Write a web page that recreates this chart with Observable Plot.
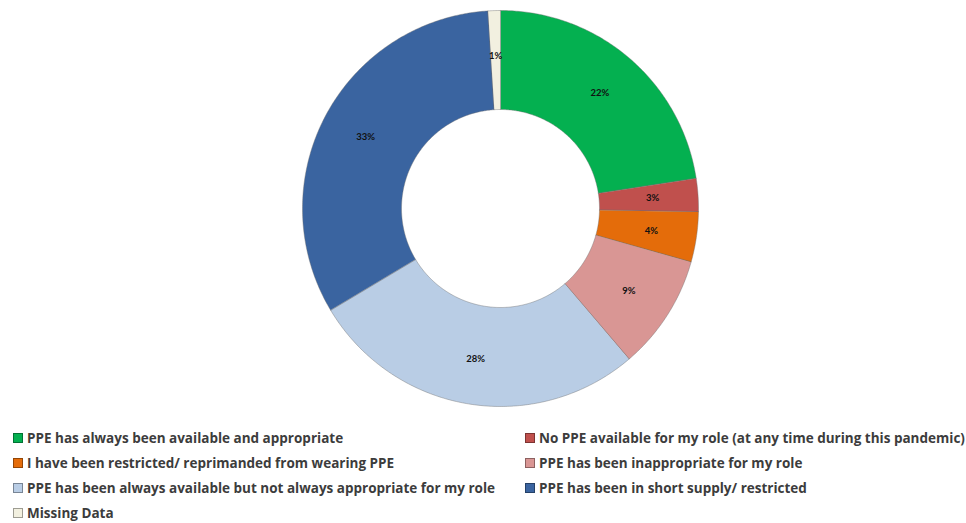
<!DOCTYPE html>
<html>
<head>
<meta charset="utf-8">
<script src="https://cdn.jsdelivr.net/npm/d3@7"></script>
<script src="https://cdn.jsdelivr.net/npm/@observablehq/plot@0.6"></script>
<style>
  html, body { margin: 0; padding: 0; background: #fff; }
  #chart svg { display: block; }
  #legend {
    display: grid;
    grid-template-columns: 512px 440px;
    grid-auto-rows: 25px;
    margin-top: 9px;
    padding-left: 13px;
    font-family: "Open Sans", Lato, sans-serif;
    font-weight: 700;
    font-size: 13.5px;
    color: #3c3c3c;
  }
  .item { display: flex; align-items: center; white-space: nowrap; }
  .sw { width: 8px; height: 8px; border: 1px solid rgba(0,0,0,0.35); margin-right: 4px; flex: none; }
</style>
</head>
<body>
<div id="chart"></div>
<div id="legend"></div>
<script>
const categories = [
  "PPE has always been available and appropriate",
  "No PPE available for my role (at any time during this pandemic)",
  "I have been restricted/ reprimanded from wearing PPE",
  "PPE has been inappropriate for my role",
  "PPE has been always available but not always appropriate for my role",
  "PPE has been in short supply/ restricted",
  "Missing Data"
];
const values = [22.6, 2.7, 4.1, 9.4, 27.7, 32.6, 1.0];
const labels = ["22%", "3%", "4%", "9%", "28%", "33%", "1%"];
const colors = ["#04b050", "#c0504d", "#e46c0a", "#d99694", "#b9cde5", "#3a64a0", "#f2f0e0"];

const innerR = 0.5, outerR = 1, labelR = 0.77;
const pie = d3.pie().sort(null).value(d => d.value);
const rows = categories.map((c, i) => ({category: c, value: values[i], label: labels[i]}));
const arcs = pie(rows);

function ring(a0, a1) {
  const n = Math.max(8, Math.ceil((a1 - a0) / 0.01));
  const pts = [];
  for (let k = 0; k <= n; k++) {
    const a = a0 + (a1 - a0) * k / n;
    pts.push([outerR * Math.sin(a), outerR * Math.cos(a)]);
  }
  for (let k = n; k >= 0; k--) {
    const a = a0 + (a1 - a0) * k / n;
    pts.push([innerR * Math.sin(a), innerR * Math.cos(a)]);
  }
  pts.push(pts[0]);
  return pts;
}

const features = arcs.map(a => ({
  type: "Feature",
  properties: {category: a.data.category},
  geometry: {type: "Polygon", coordinates: [ring(a.startAngle, a.endAngle)]}
}));
const labelPts = arcs.map(a => {
  const m = (a.startAngle + a.endAngle) / 2;
  return {x: labelR * Math.sin(m), y: labelR * Math.cos(m), text: a.data.label};
});

const plot = Plot.plot({
  width: 966,
  height: 416,
  marginTop: 10,
  marginBottom: 10,
  marginLeft: 34,
  marginRight: 0,
  projection: {
    type: "reflect-y",
    domain: {type: "MultiPoint", coordinates: [[-1, -1], [1, 1]]}
  },
  color: {domain: categories, range: colors},
  marks: [
    Plot.geo(features, {
      fill: d => d.properties.category,
      stroke: "#6f6f6f",
      strokeWidth: 0.6,
      strokeOpacity: 0.7
    }),
    Plot.text(labelPts, {
      x: "x", y: "y", text: "text",
      fill: "#111",
      fontSize: 9.5,
      fontWeight: 700,
      fontFamily: "Lato, sans-serif"
    })
  ]
});
document.getElementById("chart").appendChild(plot);

const legend = document.getElementById("legend");
categories.forEach((c, i) => {
  const item = document.createElement("div");
  item.className = "item";
  const sw = document.createElement("span");
  sw.className = "sw";
  sw.style.background = colors[i];
  item.appendChild(sw);
  const t = document.createElement("span");
  t.textContent = c;
  item.appendChild(t);
  legend.appendChild(item);
});
</script>
</body>
</html>
